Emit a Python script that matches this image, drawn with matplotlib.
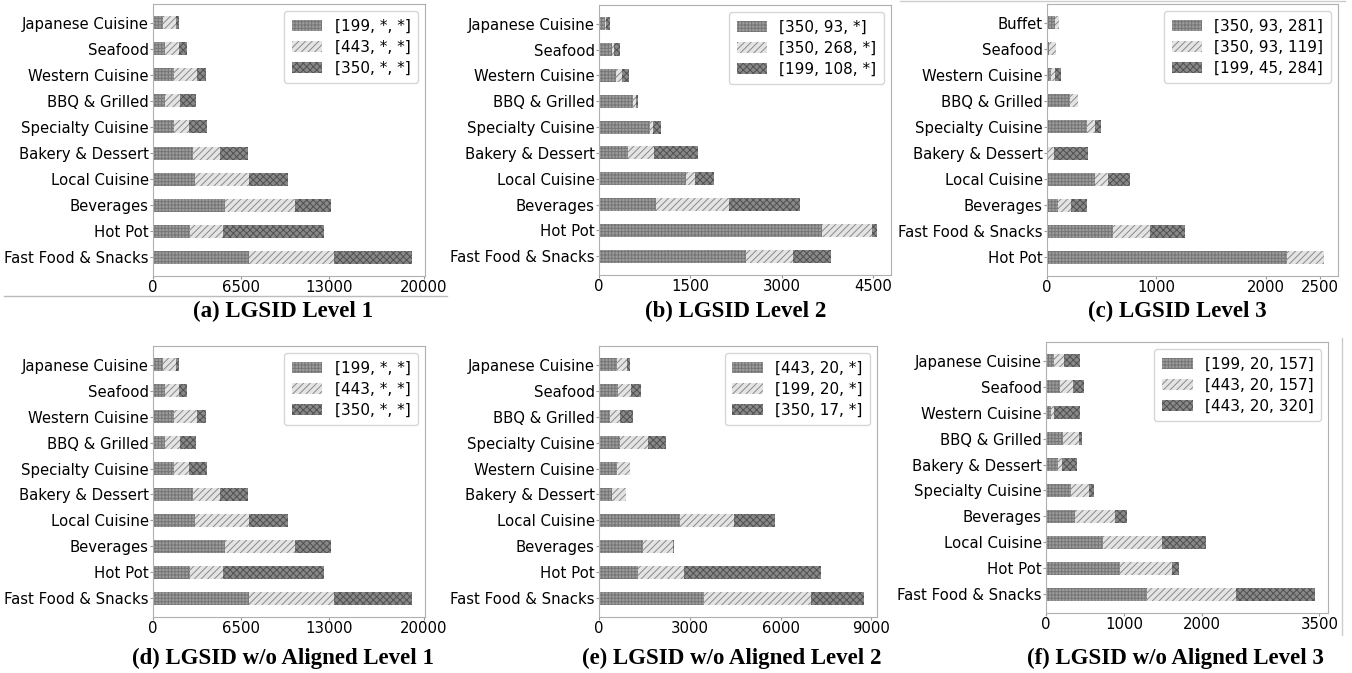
import matplotlib
matplotlib.use("Agg")
import matplotlib.pyplot as plt
from matplotlib.lines import Line2D

# category order, top row first
cats_l1 = ["Japanese Cuisine", "Seafood", "Western Cuisine", "BBQ & Grilled",
           "Specialty Cuisine", "Bakery & Dessert", "Local Cuisine", "Beverages",
           "Hot Pot", "Fast Food & Snacks"]
cats_l2 = cats_l1
cats_l3 = ["Buffet", "Seafood", "Western Cuisine", "BBQ & Grilled",
           "Specialty Cuisine", "Bakery & Dessert", "Local Cuisine", "Beverages",
           "Fast Food & Snacks", "Hot Pot"]
cats_wo2 = ["Japanese Cuisine", "Seafood", "BBQ & Grilled", "Specialty Cuisine",
            "Western Cuisine", "Bakery & Dessert", "Local Cuisine", "Beverages",
            "Hot Pot", "Fast Food & Snacks"]
cats_wo3 = ["Japanese Cuisine", "Seafood", "Western Cuisine", "BBQ & Grilled",
            "Bakery & Dessert", "Specialty Cuisine", "Beverages", "Local Cuisine",
            "Hot Pot", "Fast Food & Snacks"]

# LGSID level 1 (same counts for the w/o aligned variant)
l1_a = [710, 910, 1550, 890, 1530, 2930, 3130, 5340, 2760, 7070]
l1_b = [990, 990, 1680, 1130, 1110, 2020, 3940, 5180, 2440, 6330]
l1_c = [250, 610, 690, 1160, 1330, 2070, 2930, 2630, 7420, 5740]
l1_names = ["[199, *, *]", "[443, *, *]", "[350, *, *]"]

# LGSID level 2
l2_a = [100, 210, 285, 565, 840, 470, 1430, 930, 3670, 2420]
l2_b = [10, 40, 90, 40, 40, 440, 140, 1200, 820, 770]
l2_c = [70, 95, 120, 35, 140, 710, 320, 1170, 80, 630]
l2_names = ["[350, 93, *]", "[350, 268, *]", "[199, 108, *]"]

# LGSID level 3
l3_a = [76, 15, 37, 207, 366, 0, 440, 100, 600, 2195]
l3_b = [34, 65, 40, 77, 76, 65, 120, 115, 345, 340]
l3_c = [0, 0, 50, 0, 50, 310, 200, 150, 320, 0]
l3_names = ["[350, 93, 281]", "[350, 93, 119]", "[199, 45, 284]"]

# w/o aligned level 2
wo2_a = [580, 620, 380, 700, 580, 420, 2670, 1440, 1300, 3470]
wo2_b = [350, 430, 300, 930, 430, 460, 1790, 990, 1510, 3520]
wo2_c = [100, 330, 440, 570, 0, 0, 1350, 40, 4530, 1760]
wo2_names = ["[443, 20, *]", "[199, 20, *]", "[350, 17, *]"]

# w/o aligned level 3
wo3_a = [106, 174, 68, 213, 149, 323, 370, 736, 953, 1294]
wo3_b = [120, 171, 38, 204, 55, 222, 515, 749, 656, 1132]
wo3_c = [212, 140, 324, 38, 187, 72, 149, 562, 89, 1012]
wo3_names = ["[199, 20, 157]", "[443, 20, 157]", "[443, 20, 320]"]

styles = [
    dict(color="#9c9c9c", edgecolor="#767676", hatch="+++++"),
    dict(color="#e4e4e4", edgecolor="#8a8a8a", hatch="/////"),
    dict(color="#888888", edgecolor="#505050", hatch="xxxxx"),
]

W, H = 1352, 673
fig = plt.figure(figsize=(W / 100, H / 100), dpi=100)
plt.rcParams["hatch.linewidth"] = 0.7


def px_axes(left, top, right, bottom):
    return fig.add_axes([left / W, 1 - bottom / H, (right - left) / W, (bottom - top) / H])


def stacked(ax, cats, segs, names, ticks, caption, cx, cy):
    y = list(range(len(cats)))
    left = [0] * len(cats)
    for vals, name, st in zip(segs, names, styles):
        ax.barh(y, vals, height=0.5, left=left, label=name, linewidth=0, **st)
        left = [a + b for a, b in zip(left, vals)]
    ax.set_yticks(y, cats)
    ax.invert_yaxis()
    ax.set_xlim(0, max(left) * 1.05)
    ax.set_xticks(ticks, [str(t) for t in ticks])
    ax.tick_params(labelsize=10.7, length=2, pad=1, color="#999999")
    for s in ax.spines.values():
        s.set_color("#b0b0b0")
    ax.legend(loc="upper right", fontsize=11, handlelength=2.0, borderpad=0.5,
              labelspacing=0.4, handletextpad=0.8, borderaxespad=0.45)
    fig.text(cx / W, 1 - cy / H, caption, ha="center", va="center",
             fontsize=16.5, fontweight="bold", family="Liberation Serif")


ax = px_axes(153, 4, 425, 276)
stacked(ax, cats_l1, [l1_a, l1_b, l1_c], l1_names, [0, 6500, 13000, 20000],
        "(a) LGSID Level 1", 283, 311)
ax = px_axes(599, 5, 891, 275)
stacked(ax, cats_l2, [l2_a, l2_b, l2_c], l2_names, [0, 1500, 3000, 4500],
        "(b) LGSID Level 2", 736, 311)
ax = px_axes(1047, 4, 1338, 276)
stacked(ax, cats_l3, [l3_a, l3_b, l3_c], l3_names, [0, 1000, 2000, 2500],
        "(c) LGSID Level 3", 1177, 311)
ax = px_axes(153, 346, 425, 617)
stacked(ax, cats_l1, [l1_a, l1_b, l1_c], l1_names, [0, 6500, 13000, 20000],
        "(d) LGSID w/o Aligned Level 1", 283, 658)
ax = px_axes(599, 346, 877, 617)
stacked(ax, cats_wo2, [wo2_a, wo2_b, wo2_c], wo2_names, [0, 3000, 6000, 9000],
        "(e) LGSID w/o Aligned Level 2", 732, 658)
ax = px_axes(1046, 342, 1328, 613)
stacked(ax, cats_wo3, [wo3_a, wo3_b, wo3_c], wo3_names, [0, 1000, 2000, 3500],
        "(f) LGSID w/o Aligned Level 3", 1175, 658)

# thin panel separators
fig.add_artist(Line2D([4 / W, 447 / W], [1 - 296 / H] * 2, color="#bbbbbb", lw=1))
fig.add_artist(Line2D([900 / W, 1345 / W], [1 - 0.5 / H] * 2, color="#cccccc", lw=1))
fig.add_artist(Line2D([1342 / W] * 2, [1 - 338 / H, 1 - 635 / H], color="#cccccc", lw=1))

fig.savefig("out.png", dpi=100)
